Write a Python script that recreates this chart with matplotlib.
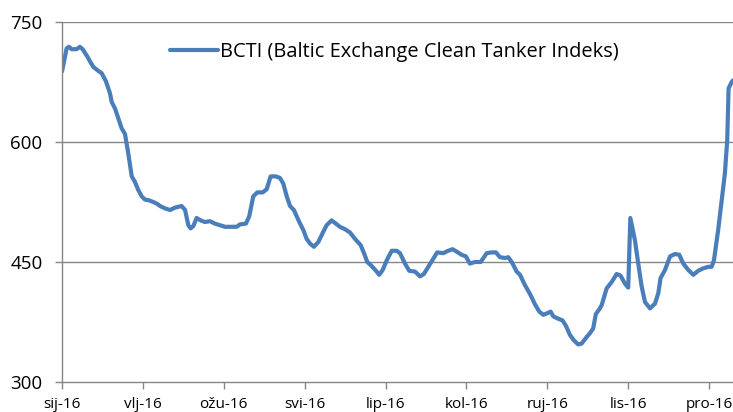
import matplotlib
matplotlib.use("Agg")
import matplotlib.pyplot as plt

# days since start of series and BCTI index values
days = [0, 2.4, 3.6, 5.0, 7.6, 9.3, 10.7, 13.1, 14.5, 16.2, 18.8, 20.6, 22.8, 24.9,
        25.8, 27.5, 29.2, 31.0, 32.7, 34.4, 36.2, 37.9, 39.6, 41.4, 43.1, 45.3, 47.4,
        49.2, 50.9, 53.5, 56.1, 58.7, 62.1, 63.9, 65.6, 66.8, 68.2, 69.9, 72.0, 74.2,
        76.8, 79.4, 82.0, 84.6, 88.1, 90.7, 92.4, 95.5, 97.2, 99.3, 101.4, 104.2,
        106.3, 108.3, 111.1, 113.2, 114.9, 116.7, 118.4, 120.4, 123.2, 125.3, 127.0,
        128.8, 130.8, 133.1, 135.3, 137.4, 140.0, 142.2, 144.3, 146.9, 149.5, 152.1,
        155.1, 156.8, 158.5, 160.8, 163.4, 164.7, 166.5, 168.6, 171.2, 173.8, 175.5,
        178.1, 180.3, 183.3, 185.9, 187.9, 190.2, 192.8, 194.8, 197.9, 200.5, 202.8,
        204.9, 207.5, 209.7, 211.8, 214.4, 217.4, 220.5, 223.1, 225.3, 227.4, 230.0,
        231.7, 233.5, 236.1, 237.8, 240.4, 243.0, 245.6, 247.8, 249.9, 252.0, 253.7,
        255.1, 257.7, 259.9, 261.7, 263.7, 265.8, 268.0, 269.8, 272.0, 274.1, 275.8,
        277.2, 279.0, 280.2, 282.8, 285.4, 288.0, 290.0, 292.3, 294.0, 295.1, 297.5,
        299.2, 301.0, 302.7, 305.3, 307.9, 309.6, 310.8, 313.1, 315.7, 318.3, 320.5,
        322.6, 325.2, 327.8, 330.3, 332.9, 335.5, 337.3, 338.5, 340.7, 342.5, 344.2,
        345.4, 346.1, 347.7, 348.4]
bcti = [688, 717, 719, 716, 716, 719, 716, 707, 701, 694, 689, 686, 676, 661,
        650, 642, 630, 617, 610, 586, 557, 550, 540, 532, 528, 527, 525,
        523, 520, 517, 515, 518, 520, 515, 496, 492, 495, 505, 502, 500,
        501, 498, 496, 494, 494, 494, 497, 498, 507, 532, 537, 537,
        541, 557, 557, 555, 548, 532, 520, 515, 500, 490, 479,
        473, 469, 475, 486, 496, 502, 498, 494, 491, 487, 479,
        471, 461, 450, 445, 438, 434, 440, 452, 464, 464, 461,
        448, 439, 438, 432, 435, 444, 454, 462, 461, 464, 466,
        463, 459, 457, 448, 450, 450, 461, 462, 462, 456, 455,
        456, 450, 438, 434, 421, 410, 397, 388, 384, 386, 388,
        382, 379, 377, 370, 359, 352, 347, 348, 355, 361, 367,
        385, 391, 396, 417, 425, 435, 433, 423, 418, 505, 477,
        448, 419, 400, 392, 398, 411, 430, 440, 457, 460, 459,
        448, 440, 434, 439, 442, 444, 444, 452, 490, 527, 561,
        602, 667, 675, 677]

tick_days = [0, 42, 84, 126, 168, 210, 252, 294, 336]
tick_labels = ["sij-16", "vlj-16", "ožu-16", "svi-16", "lip-16", "kol-16",
               "ruj-16", "lis-16", "pro-16"]
y_ticks = [300, 450, 600, 750]

plt.rcParams['font.family'] = ['Open Sans', 'DejaVu Sans']

fig = plt.figure(figsize=(7.33, 4.12), dpi=100)
ax = fig.add_axes([62/733, 1-382/412, 1-62/733, 360/412])

ax.plot(days, bcti, color="#4a7ebb", lw=3, solid_capstyle="round",
        label="BCTI (Baltic Exchange Clean Tanker Indeks)")

ax.set_xlim(0, 348.4)
ax.set_ylim(300, 750)
ax.set_yticks(y_ticks)
ax.set_xticks(tick_days)
ax.set_xticklabels(tick_labels)

for y in y_ticks[1:]:
    ax.axhline(y, color="#868686", lw=1, zorder=0)

for s in ["top", "right"]:
    ax.spines[s].set_visible(False)
for s in ["left", "bottom"]:
    ax.spines[s].set_color("#868686")
    ax.spines[s].set_linewidth(1)
ax.tick_params(axis="both", colors="#868686", labelcolor="black", length=5,
               width=1, labelsize=13.5)
ax.tick_params(axis="y", pad=9)
ax.tick_params(axis="x", pad=6, labelsize=11)

ax.legend(loc="center left", bbox_to_anchor=((170-62)/671, (382-52)/360),
          frameon=False, fontsize=14.4, borderpad=0, borderaxespad=0,
          handlelength=2.4, handletextpad=0.12)

fig.savefig("out.png", dpi=100)
